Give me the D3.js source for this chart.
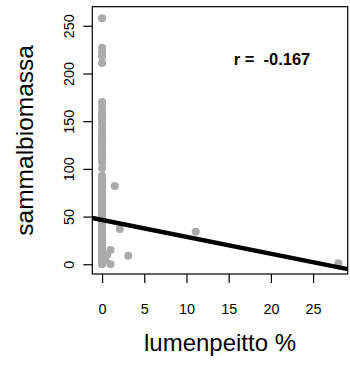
<!DOCTYPE html>
<html><head><meta charset="utf-8">
<script src="https://cdn.jsdelivr.net/npm/d3@7"></script>
<style>body{margin:0;background:#fff}svg{display:block}text{font-family:"Liberation Sans",Arial,sans-serif}</style>
</head><body>
<svg id="c" width="350" height="365"></svg>
<script>
// data
const columnY = [0,1,3,5,7,9,11,13,15,17,19,21,23,25,27,29,31,33,35,37,39,41,43,45,47,49,51,53,55,57,59,61,63,65,67,69,71,73,75,77,79,81,83,85,87,89,91,93,
  101,107,110,113,116,119,122,125,128,131,134,137,141,146,149,152,155,158,160,165,170,211,218,222,227,258];
const otherX = [1.5, 2.1, 11.1, 1.0, 3.1, 1.0, 28.0, 0.6, 0.4];
const otherY = [82, 37, 34, 15, 9, 0, 1, 10, 4];
const xTicks = [0,5,10,15,20,25];
const yTicks = [0,50,100,150,200,250];
const fitIntercept = 46.4, fitSlope = -1.77;
const rLabel = "r =  -0.167";
const xTitle = "lumenpeitto %", yTitle = "sammalbiomassa";

const pts = columnY.map(y => ({x:0, y})).concat(otherX.map((x,i)=>({x, y:otherY[i]})));

const L=92.3, R=347.7, T=6.7, B=274;
const x = d3.scaleLinear().domain([-1.16, 29.1]).range([L,R]);
const y = d3.scaleLinear().domain([-10.2, 270]).range([B,T]);
const svg = d3.select("#c");

svg.append("clipPath").attr("id","clp").append("rect").attr("x",L).attr("y",T).attr("width",R-L).attr("height",B-T);

svg.append("g").selectAll("circle").data(pts).join("circle")
  .attr("cx", d=>x(d.x)).attr("cy", d=>y(d.y)).attr("r",4).attr("fill","#aaaaaa");

const xd = x.domain();
svg.append("line").attr("clip-path","url(#clp)")
  .attr("x1", x(xd[0])).attr("y1", y(fitIntercept+fitSlope*xd[0]))
  .attr("x2", x(xd[1])).attr("y2", y(fitIntercept+fitSlope*xd[1]))
  .attr("stroke","#000").attr("stroke-width",4.5);

svg.append("rect").attr("x",L).attr("y",T).attr("width",R-L).attr("height",B-T)
  .attr("fill","none").attr("stroke","#000").attr("stroke-width",1.2);

const xa = svg.append("g").attr("transform",`translate(0,${B})`)
  .call(d3.axisBottom(x).tickValues(xTicks).tickSize(9).tickPadding(21).tickFormat(d3.format("d")));
const ya = svg.append("g").attr("transform",`translate(${L},0)`)
  .call(d3.axisLeft(y).tickValues(yTicks).tickSize(9).tickFormat(d3.format("d")));
[xa,ya].forEach(a=>{a.select(".domain").remove(); a.selectAll(".tick line").attr("stroke","#000").attr("stroke-width",1.2);
  a.selectAll("text").attr("font-size",14.4).attr("fill","#000").attr("font-family","Liberation Sans, Arial, sans-serif");});
ya.selectAll(".tick text").attr("dy",0).attr("x",0).attr("y",0)
  .attr("transform",`translate(${69-L+5},0) rotate(-90)`).attr("text-anchor","middle");

svg.append("text").attr("x",(L+R)/2).attr("y",351).attr("text-anchor","middle").attr("font-size",24).text(xTitle);
svg.append("text").attr("transform",`translate(33,${(T+B)/2}) rotate(-90)`).attr("text-anchor","middle").attr("font-size",24.5).text(yTitle);
svg.append("text").attr("x",272).attr("y",65).attr("text-anchor","middle").attr("font-size",16.5).attr("font-weight","bold")
  .style("white-space","pre").text(rLabel);
</script>
</body></html>
